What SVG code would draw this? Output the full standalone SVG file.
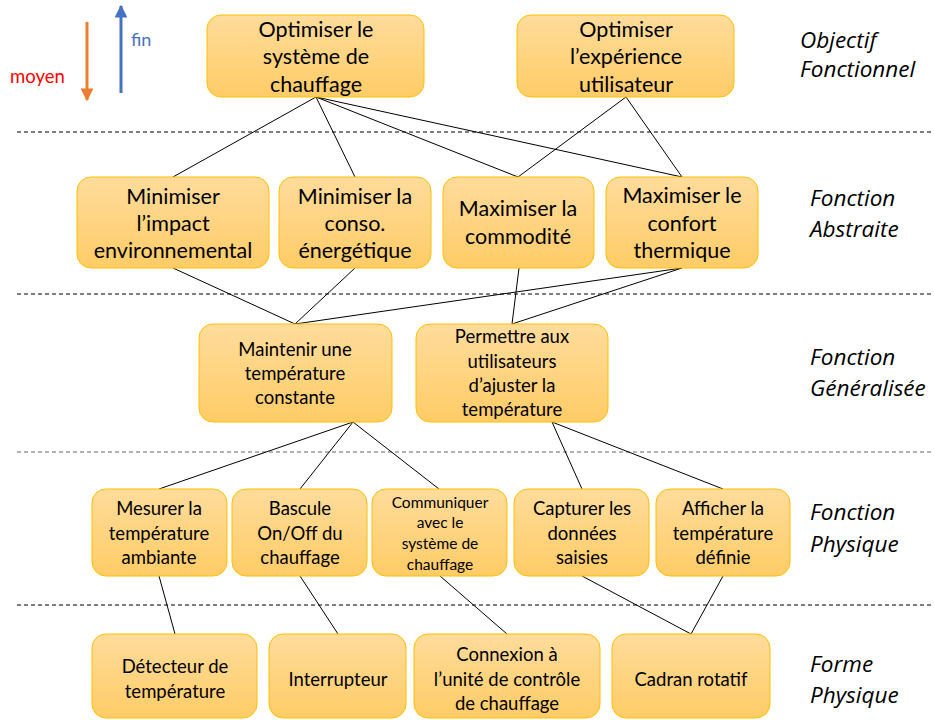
<svg xmlns="http://www.w3.org/2000/svg" width="934" height="720" viewBox="0 0 934 720">
<defs>
<linearGradient id="g" x1="0" y1="0" x2="0" y2="1">
<stop offset="0" stop-color="#FFDC9C"/>
<stop offset="1" stop-color="#FFCC66"/>
</linearGradient>
<marker id="ao" viewBox="0 0 10 10" refX="9" refY="5" markerWidth="4.3" markerHeight="4.3" orient="auto" markerUnits="strokeWidth"><path d="M0,0 L10,5 L0,10 z" fill="#ED7D31"/></marker>
<marker id="ab" viewBox="0 0 10 10" refX="9" refY="5" markerWidth="4.3" markerHeight="4.3" orient="auto" markerUnits="strokeWidth"><path d="M0,0 L10,5 L0,10 z" fill="#4472C4"/></marker>
</defs>
<style>
.n rect{fill:url(#g);stroke:#FFC000;stroke-width:1}
.n text{font-family:Lato,"Liberation Sans",sans-serif;fill:#000;text-anchor:middle}
.t1 text{font-size:21.5px}
.t2 text{font-size:18.5px}
.t3 text{font-size:15.5px}
.lbl{font-family:"Open Sans","Liberation Sans",sans-serif;font-style:italic;font-size:22.5px;fill:#000}
.dash{stroke:#000;stroke-width:1;stroke-dasharray:4,3}
#connectors line{stroke:#000;stroke-width:1}
</style>
<rect width="934" height="720" fill="#fff"/>
<g id="legend">
<line x1="87" y1="22" x2="87" y2="100" stroke="#ED7D31" stroke-width="3" marker-end="url(#ao)"/>
<line x1="121" y1="93" x2="121" y2="6" stroke="#4472C4" stroke-width="3" marker-end="url(#ab)"/>
<text x="131" y="46" font-family="Lato,'Liberation Sans',sans-serif" font-size="18" fill="#4472C4">fin</text>
<text x="10" y="83" font-family="Lato,'Liberation Sans',sans-serif" font-size="18.5" fill="#FF0000">moyen</text>
</g>
<g id="separators">
<line class="dash" x1="17" y1="132" x2="934" y2="132"/>
<line class="dash" x1="17" y1="294" x2="934" y2="294"/>
<line class="dash" x1="17" y1="452" x2="934" y2="452" style="stroke:#666"/>
<line class="dash" x1="17" y1="605" x2="934" y2="605"/>
</g>
<g id="levels">
<text class="lbl" x="800" y="48">Objectif</text><text class="lbl" x="800" y="77">Fonctionnel</text>
<text class="lbl" x="810" y="206">Fonction</text><text class="lbl" x="810" y="237">Abstraite</text>
<text class="lbl" x="810" y="365">Fonction</text><text class="lbl" x="810" y="396">Généralisée</text>
<text class="lbl" x="810" y="520">Fonction</text><text class="lbl" x="810" y="552">Physique</text>
<text class="lbl" x="810" y="672">Forme</text><text class="lbl" x="810" y="703">Physique</text>
</g>
<g id="connectors">
<line x1="316" y1="97" x2="173" y2="177"/>
<line x1="316" y1="97" x2="355" y2="177"/>
<line x1="316" y1="97" x2="518" y2="177"/>
<line x1="316" y1="97" x2="682" y2="177"/>
<line x1="626" y1="97" x2="518" y2="177"/>
<line x1="626" y1="97" x2="682" y2="177"/>
<line x1="173" y1="268" x2="295" y2="324"/>
<line x1="355" y1="268" x2="295" y2="324"/>
<line x1="682" y1="268" x2="295" y2="324"/>
<line x1="519" y1="268" x2="512" y2="324"/>
<line x1="682" y1="268" x2="512" y2="324"/>
<line x1="353" y1="422" x2="159" y2="489"/>
<line x1="353" y1="422" x2="300" y2="489"/>
<line x1="353" y1="422" x2="439" y2="489"/>
<line x1="552" y1="422" x2="582" y2="489"/>
<line x1="552" y1="422" x2="723" y2="489"/>
<line x1="159" y1="576" x2="175" y2="634"/>
<line x1="300" y1="576" x2="338" y2="634"/>
<line x1="440" y1="576" x2="507" y2="634"/>
<line x1="582" y1="576" x2="691" y2="634"/>
<line x1="723" y1="576" x2="691" y2="634"/>
</g>
<g id="n1" class="n t1"><rect x="207" y="15" width="217" height="82" rx="14"/><text x="316" y="37">Optimiser le</text><text x="316" y="64">système de</text><text x="316" y="92">chauffage</text></g>
<g id="n2" class="n t1"><rect x="517" y="15" width="217" height="82" rx="14"/><text x="626" y="37">Optimiser</text><text x="626" y="64">l’expérience</text><text x="626" y="92">utilisateur</text></g>
<g id="n3" class="n t1"><rect x="77" y="177" width="192" height="91" rx="14"/><text x="173" y="204">Minimiser</text><text x="173" y="231">l’impact</text><text x="173" y="258">environnemental</text></g>
<g id="n4" class="n t1"><rect x="279" y="177" width="152" height="91" rx="14"/><text x="355" y="204">Minimiser la</text><text x="355" y="231">conso.</text><text x="355" y="258">énergétique</text></g>
<g id="n5" class="n t1"><rect x="443" y="177" width="151" height="91" rx="14"/><text x="518" y="216">Maximiser la</text><text x="518" y="244">commodité</text></g>
<g id="n6" class="n t1"><rect x="606" y="177" width="152" height="91" rx="14"/><text x="682" y="203">Maximiser le</text><text x="682" y="231">confort</text><text x="682" y="258">thermique</text></g>
<g id="n7" class="n t2"><rect x="199" y="324" width="193" height="98" rx="14"/><text x="295" y="356">Maintenir une</text><text x="295" y="380">température</text><text x="295" y="404">constante</text></g>
<g id="n8" class="n t2"><rect x="416" y="324" width="192" height="98" rx="14"/><text x="512" y="343">Permettre aux</text><text x="512" y="368">utilisateurs</text><text x="512" y="392">d’ajuster la</text><text x="512" y="416">température</text></g>
<g id="n9" class="n t2"><rect x="92" y="489" width="135" height="87" rx="14"/><text x="159" y="515">Mesurer la</text><text x="159" y="540">température</text><text x="159" y="564">ambiante</text></g>
<g id="n10" class="n t2"><rect x="232" y="489" width="135" height="87" rx="14"/><text x="300" y="515">Bascule</text><text x="300" y="540">On/Off du</text><text x="300" y="564">chauffage</text></g>
<g id="n11" class="n t3"><rect x="372" y="489" width="135" height="87" rx="14"/><text x="440" y="508">Communiquer</text><text x="440" y="528">avec le</text><text x="440" y="549">système de</text><text x="440" y="570">chauffage</text></g>
<g id="n12" class="n t2"><rect x="514" y="489" width="135" height="87" rx="14"/><text x="582" y="515">Capturer les</text><text x="582" y="540">données</text><text x="582" y="564">saisies</text></g>
<g id="n13" class="n t2"><rect x="656" y="489" width="134" height="87" rx="14"/><text x="723" y="515">Afficher la</text><text x="723" y="540">température</text><text x="723" y="564">définie</text></g>
<g id="n14" class="n t2"><rect x="92" y="634" width="165" height="84" rx="14"/><text x="175" y="673">Détecteur de</text><text x="175" y="698">température</text></g>
<g id="n15" class="n t2"><rect x="269" y="634" width="137" height="84" rx="14"/><text x="338" y="686">Interrupteur</text></g>
<g id="n16" class="n t2"><rect x="414" y="634" width="186" height="84" rx="14"/><text x="507" y="661">Connexion à</text><text x="507" y="686">l’unité de contrôle</text><text x="507" y="710">de chauffage</text></g>
<g id="n17" class="n t2"><rect x="612" y="634" width="158" height="84" rx="14"/><text x="691" y="686">Cadran rotatif</text></g>
</svg>
